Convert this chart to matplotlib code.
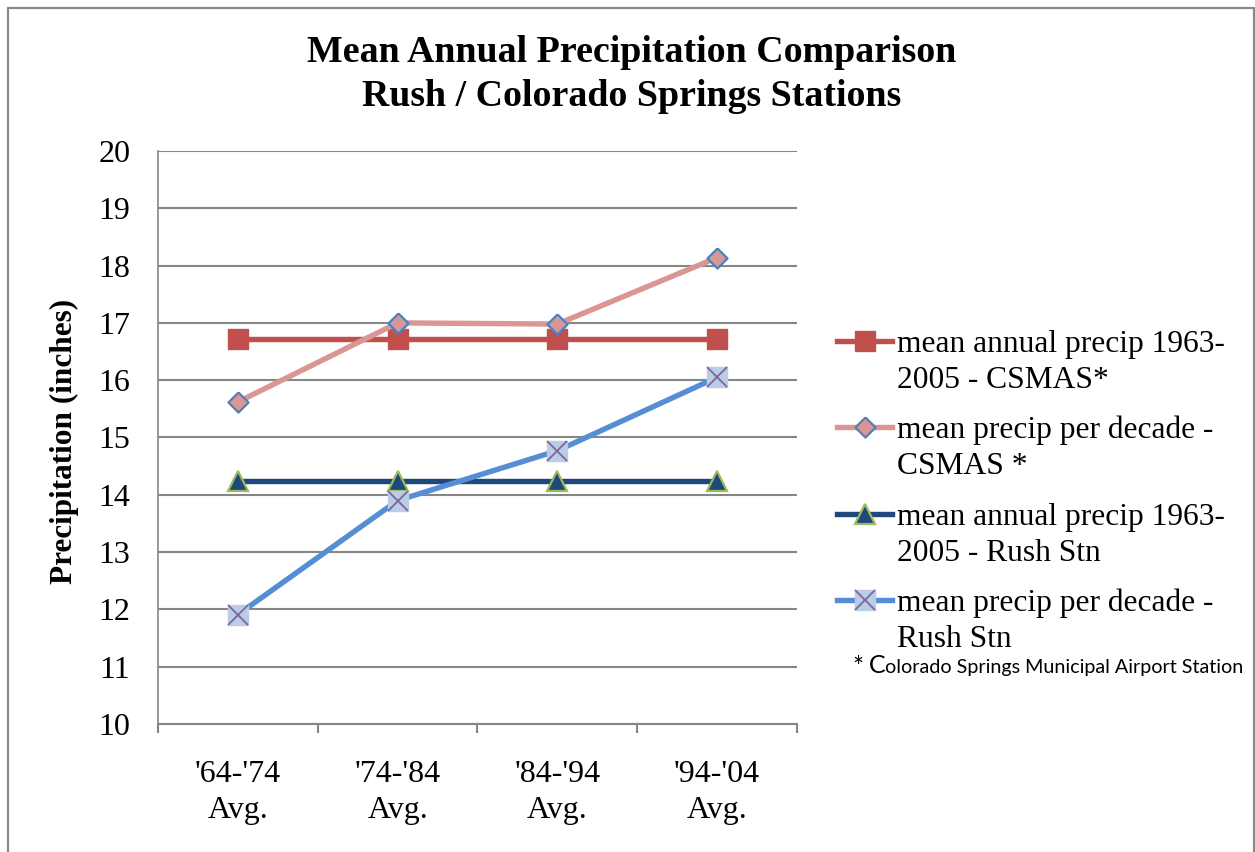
import matplotlib
matplotlib.use("Agg")
import matplotlib.pyplot as plt
from matplotlib.lines import Line2D
from matplotlib.patches import Rectangle

categories = ["'64-'74\nAvg.", "'74-'84\nAvg.", "'84-'94\nAvg.", "'94-'04\nAvg."]
csmas_annual = [16.72, 16.72, 16.72, 16.72]
csmas_decade = [15.62, 17.0, 16.98, 18.14]
rush_annual = [14.24, 14.24, 14.24, 14.24]
rush_decade = [11.91, 13.90, 14.77, 16.05]
labels = ["mean annual precip 1963-\n2005 - CSMAS*",
          "mean precip per decade -\nCSMAS *",
          "mean annual precip 1963-\n2005 - Rush Stn",
          "mean precip per decade -\nRush Stn"]
yticks = list(range(10, 21))

W, H = 1255, 852
fig = plt.figure(figsize=(W/100, H/100), dpi=100)
serif = "Liberation Serif"

# outer frame
fig.add_artist(Rectangle((8/W, -0.05), (1254-8)/W, 1 - 7.5/H + 0.05,
                         transform=fig.transFigure, fill=False,
                         edgecolor="#8a8a8a", linewidth=1.6))

ax = fig.add_axes([158/W, 1-724/H, (797-158)/W, (724-151)/H])
x = list(range(len(categories)))

ax.set_ylim(10, 20)
ax.set_xlim(-0.5, 3.5)
ax.set_yticks(yticks)
ax.set_yticklabels([str(v) for v in yticks], fontfamily=serif, fontsize=23)
ax.yaxis.grid(True, color="#868686", linewidth=1.5)
ax.set_axisbelow(True)
ax.set_xticks(x)
ax.set_xticklabels(categories, fontfamily=serif, fontsize=23, linespacing=1.3)
ax.set_xticks([i - 0.5 for i in range(len(categories) + 1)], minor=True)
ax.tick_params(axis="x", which="major", length=0, pad=26)
ax.tick_params(axis="x", which="minor", length=6.5, color="#868686", width=1.5)
ax.tick_params(axis="y", which="major", length=0, pad=20)
for s in ["top", "right"]:
    ax.spines[s].set_visible(False)
ax.spines["left"].set_color("#868686")
ax.spines["left"].set_linewidth(1.2)
ax.spines["bottom"].set_color("#868686")
ax.spines["bottom"].set_linewidth(1.5)

ax.set_ylabel("Precipitation (inches)", fontfamily=serif, fontsize=22.5,
              fontweight="bold")
ax.yaxis.set_label_coords((79-158)/639, 0.494)

diamond = [(0, 1), (1, 0), (0, -1), (-1, 0), (0, 1)]
ms_sq = 14.5
ms_d = 14.5
ms_tri = 14.5
lw = 3.9
ax.plot(x, csmas_annual, color="#C0504D", lw=lw, marker="s", ms=ms_sq,
        mfc="#C0504D", mec="#C0504D", zorder=3)
ax.plot(x, csmas_decade, color="#D99694", lw=lw, marker=diamond, ms=ms_d,
        mfc="#D99694", mec="#4F81BD", mew=1.6, zorder=4)
ax.plot(x, rush_annual, color="#1F497D", lw=lw, marker="^", ms=ms_tri,
        mfc="#1F497D", mec="#9BBB59", mew=1.6, zorder=5)
ax.plot(x, rush_decade, color="#558ED5", lw=lw, marker="s", ms=ms_sq,
        mfc="#B9CDE5", mec="#B9CDE5", zorder=6)
ax.plot(x, rush_decade, color="none", lw=0, marker="x", ms=ms_sq,
        mec="#8064A2", mew=1.3, zorder=7)

# title
fig.text(632/W, 1-52/H, "Mean Annual Precipitation Comparison", ha="center",
         va="center", fontfamily=serif, fontsize=27.3, fontweight="bold")
fig.text(632/W, 1-96/H, "Rush / Colorado Springs Stations", ha="center",
         va="center", fontfamily=serif, fontsize=27.3, fontweight="bold")

# manual legend
legend_y = [341, 427, 514, 600]
styles = [
    dict(color="#C0504D", marker="s", ms=ms_sq, mfc="#C0504D", mec="#C0504D"),
    dict(color="#D99694", marker=diamond, ms=ms_d, mfc="#D99694", mec="#4F81BD", mew=1.6),
    dict(color="#1F497D", marker="^", ms=ms_tri, mfc="#1F497D", mec="#9BBB59", mew=1.6),
    dict(color="#558ED5", marker="s", ms=ms_sq, mfc="#B9CDE5", mec="#B9CDE5"),
]
for i, (yy, st, lab) in enumerate(zip(legend_y, styles, labels)):
    yf = 1 - yy/H
    fig.add_artist(Line2D([837/W, 892/W], [yf, yf], lw=lw, color=st["color"],
                          transform=fig.transFigure))
    fig.add_artist(Line2D([864.5/W], [yf], lw=0, transform=fig.transFigure,
                          **{k: v for k, v in st.items() if k != "color"}))
    if i == 3:
        fig.add_artist(Line2D([864.5/W], [yf], lw=0, marker="x", ms=ms_sq,
                              mec="#8064A2", mew=1.3, transform=fig.transFigure))
    fig.text(897/W, 1 - (yy - 11)/H, lab, ha="left", va="top", fontfamily=serif,
             fontsize=22.7, linespacing=1.3)

# footnote
fig.text(852/W, 1-676/H, "*", ha="left", va="baseline", fontfamily="Lato", fontsize=19)
fig.text(869/W, 1-673/H, "C", ha="left", va="baseline", fontfamily="Lato", fontsize=18)
fig.text(885/W, 1-673/H, "olorado Springs Municipal Airport Station", ha="left",
         va="baseline", fontfamily="Lato", fontsize=14.2)

fig.savefig("out.png", dpi=100)
